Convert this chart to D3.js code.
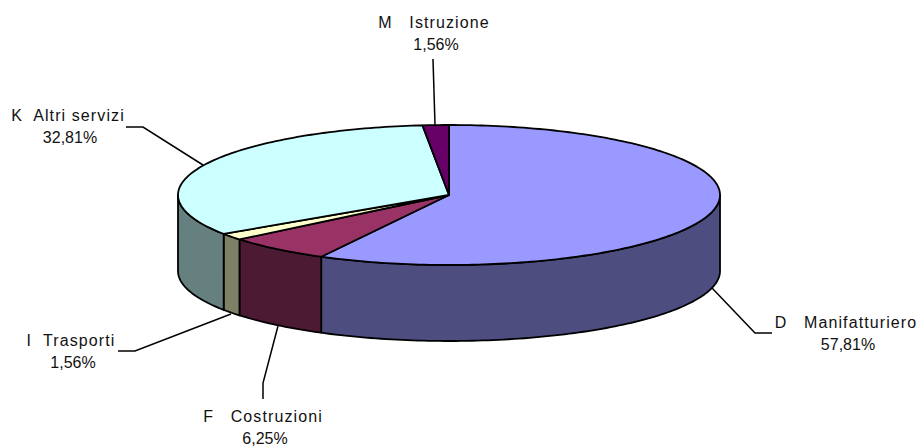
<!DOCTYPE html>
<html><head><meta charset="utf-8">
<script src="https://cdn.jsdelivr.net/npm/d3@7/dist/d3.min.js"></script>
<style>html,body{margin:0;padding:0;background:#fff}svg{display:block}text{font-family:"Liberation Sans",Arial,sans-serif;font-size:16px;fill:#111}</style>
</head><body><svg id="c" width="920" height="446"></svg>
<script>
const categories = ["D   Manifatturiero","F   Costruzioni","I  Trasporti","K  Altri servizi","M   Istruzione"];
const percents = [57.81,6.25,1.56,32.81,1.56];
const percentLabels = ["57,81%","6,25%","1,56%","32,81%","1,56%"];
const topColors = ["#9999ff","#993366","#ffffcc","#ccffff","#660066"];
const sideColors = ["#4d4d80","#4d1a33","#808066","#668080","#330033"];
// label anchor: [center x, first-line baseline], leader polyline anchors
const labelPos = [[846,328],[263,422],[71,346],[68,121],[434,28]];
const leaders = [[[712,288],[755,333],[772,333]],[[278,326],[263,383],[263,399]],[[231,314],[135,351],[118,351]],[[203,165],[143,127],[126,127]],[[435,125],[433,59]]];

const cx=449,cy=195,rx=271,ry=70,depth=76;
const svg=d3.select("#c");
const arcs=d3.pie().sort(null).value(d=>d)(percents);
const sx=d3.scaleLinear().domain([-1,1]).range([cx-rx,cx+rx]);
const sy=d3.scaleLinear().domain([-1,1]).range([cy+ry,cy-ry]);
const pt=(a,dy=0)=>[sx(Math.sin(a)),sy(Math.cos(a))+dy];
const line=d3.line();
const samples=(a0,a1,dy=0)=>{const n=Math.max(2,Math.ceil((a1-a0)/0.02));return d3.range(n+1).map(i=>pt(a0+(a1-a0)*i/n,dy));};

// side walls: only the front half (angles between PI/2 and 3PI/2)
const g=svg.append("g").attr("stroke","#000").attr("stroke-width",1.8).attr("stroke-linejoin","round");
arcs.forEach((d,i)=>{
  const a0=Math.max(d.startAngle,Math.PI/2),a1=Math.min(d.endAngle,3*Math.PI/2);
  if(a1<=a0)return;
  const topEdge=samples(a0,a1),bot=samples(a0,a1,depth).reverse();
  g.append("path").attr("d",line(topEdge.concat(bot))+"Z").attr("fill",sideColors[i]);
});
// top slices
arcs.forEach((d,i)=>{
  const p=[[cx,cy]].concat(samples(d.startAngle,d.endAngle));
  g.append("path").attr("d",line(p)+"Z").attr("fill",topColors[i]);
});
// leaders
leaders.forEach(l=>svg.append("path").attr("d",line(l)).attr("fill","none").attr("stroke","#000").attr("stroke-width",1.5));
// labels
categories.forEach((c,i)=>{
  const t=svg.append("text").attr("text-anchor","middle");
  t.append("tspan").attr("x",labelPos[i][0]).attr("y",labelPos[i][1]).style("letter-spacing","1.1px").style("white-space","pre").text(c);
  t.append("tspan").attr("x",labelPos[i][0]+2).attr("y",labelPos[i][1]+22).text(percentLabels[i]);
});
</script></body></html>
